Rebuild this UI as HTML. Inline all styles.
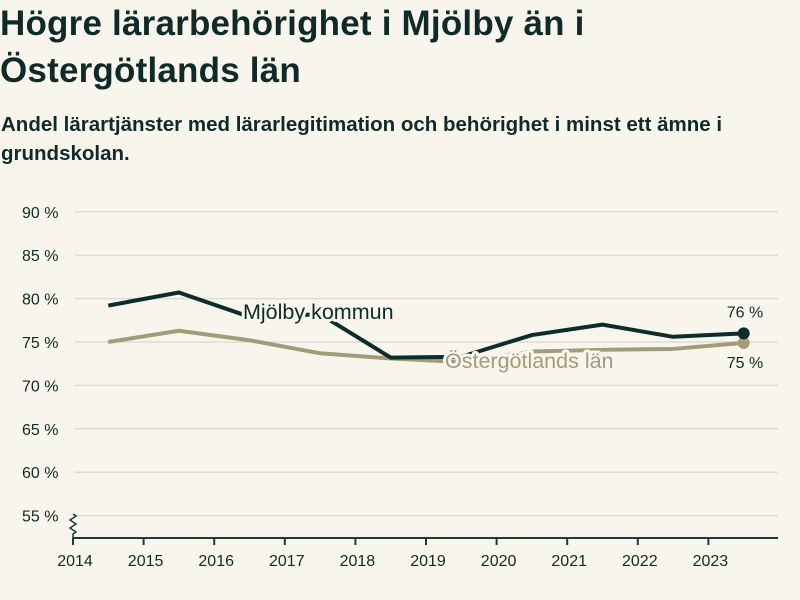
<!DOCTYPE html>
<html><head><meta charset="utf-8"><style>
body{margin:0;background:#f8f6ec;font-family:"Liberation Sans","DejaVu Sans",sans-serif;color:#0f2a28}
#wrap{width:800px;height:600px;position:relative;overflow:hidden}
h1{position:absolute;left:0px;top:0px;margin:0;font-size:35px;font-weight:bold;line-height:47px;letter-spacing:0.2px}
h2{position:absolute;left:1px;top:110px;margin:0;font-size:20.5px;font-weight:bold;line-height:29px;width:795px}
svg{position:absolute;left:0;top:0}
</style></head><body>
<div id="wrap">
<h1>Högre lärarbehörighet i Mjölby än i<br>Östergötlands län</h1>
<h2>Andel lärartjänster med lärarlegitimation och behörighet i minst ett ämne i grundskolan.</h2>
<svg id="chart" width="800" height="600"></svg>
</div>
<script>
const years=[2014.5,2015.5,2016.5,2017.5,2018.5,2019.5,2020.5,2021.5,2022.5,2023.5];
const mjolby=[79.2,80.7,77.9,78.2,73.2,73.3,75.8,77.0,75.6,76.0];
const ostergotland=[75.0,76.3,75.2,73.7,73.1,72.7,73.9,74.1,74.2,74.9];
const yTicks=[55,60,65,70,75,80,85,90];
const xTicks=[2014,2015,2016,2017,2018,2019,2020,2021,2022,2023];
const NS="http://www.w3.org/2000/svg";
const svg=document.getElementById('chart');
const x=v=>73+(v-2014)*70.6;
const y=v=>342-(v-75)*8.68;
function el(t,a,p){const e=document.createElementNS(NS,t);for(const k in a)e.setAttribute(k,a[k]);(p||svg).appendChild(e);return e;}
yTicks.forEach(t=>{
  const g=el('line',{x1:75,x2:778,y1:y(t),y2:y(t),stroke:'#dedbd3','stroke-width':1.5});
  
  
  const tx=el('text',{x:22,y:y(t)+6,'font-size':16,fill:'#0f2a28'});
  tx.textContent=t+' %';
  
  
});
const ax=el('line',{x1:73,x2:778,y1:538,y2:538,stroke:'#1e3b38','stroke-width':2});


const br=el('path',{d:'M73,514 l3,2 -6,4 6,4 -6,4 6,4 -3,2 v4',fill:'none',stroke:'#1e3b38','stroke-width':1.5});


xTicks.forEach(t=>{
  const l=el('line',{x1:x(t),x2:x(t),y1:538,y2:545,stroke:'#1e3b38','stroke-width':2});
  
  
  const tx=el('text',{x:x(t)+2,y:566,'font-size':16,'text-anchor':'middle',fill:'#0f2a28'});
  tx.textContent=t;
  
  
});
function series(vals,col,name){
  const p=el('polyline',{points:years.map((yr,i)=>x(yr)+','+y(vals[i])).join(' '),fill:'none',stroke:col,'stroke-width':4,'stroke-linejoin':'round'});
  
  
  const last=vals.length-1;
  const c=el('circle',{cx:x(years[last]),cy:y(vals[last]),r:6,fill:col});
  
  
}
series(ostergotland,'#a29c7a','ostergotland');
series(mjolby,'#0d2c2a','mjolby');
function label(txt,xx,yy,col,name,size,anchor){
  const t=el('text',{x:xx,y:yy,'font-size':size,fill:col,'font-weight':500,stroke:'#f8f6ec','stroke-width':6,'paint-order':'stroke','stroke-linejoin':'round','text-anchor':anchor||'start'});
  t.textContent=txt;
  
  
}
label('Mjölby kommun',243,319,'#0d2c2a','mjolby-label',21.5);
label('Östergötlands län',445,368,'#a29c7a','ostergotland-label',21.5);
const li=mjolby.length-1;
label(Math.round(mjolby[li])+' %',745,y(mjolby[li])-16,'#0f2a28','mjolby-value-label',16,'middle');
label(Math.round(ostergotland[li])+' %',745,y(ostergotland[li])+25,'#0f2a28','ostergotland-value-label',16,'middle');
</script>
</body></html>
